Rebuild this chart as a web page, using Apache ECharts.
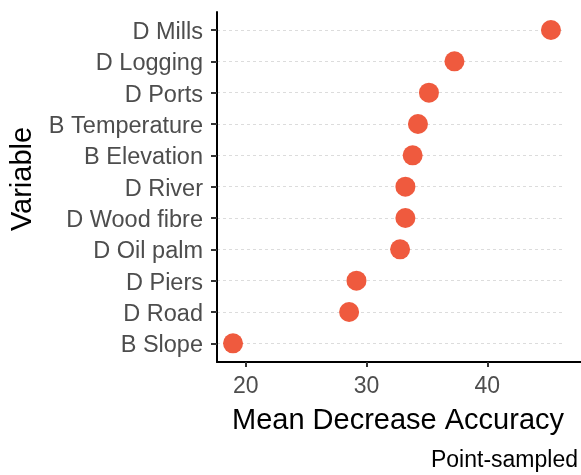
<!DOCTYPE html>
<html>
<head>
<meta charset="utf-8">
<script src="https://cdn.jsdelivr.net/npm/echarts@6/dist/echarts.min.js"></script>
<style>
html,body{margin:0;padding:0;background:#fff;}
#c{width:581px;height:475px;}
</style>
</head>
<body>
<div id="c"></div>
<script>
const categories = ["D Mills","D Logging","D Ports","B Temperature","B Elevation","D River","D Wood fibre","D Oil palm","D Piers","D Road","B Slope"];
const values = [45.27,37.28,35.17,34.26,33.82,33.22,33.22,32.78,29.17,28.56,18.95];
const xTicks = [20,30,40];
const xTitle = "Mean Decrease Accuracy";
const yTitle = "Variable";
const caption = "Point-sampled";

const FONT = "'Liberation Sans', Arial, sans-serif";
const xMin = 17.624;
const pxPerUnit = 12.08;
const chart = echarts.init(document.getElementById('c'), null, {renderer:'canvas'});
chart.setOption({
  animation:false,
  backgroundColor:'#ffffff',
  grid:[
    {left:217, width:348, top:30, height:313.33, containLabel:false},
    {left:217, width:364, top:12, height:350, containLabel:false}
  ],
  xAxis:[
    {gridIndex:0, type:'value', min:xMin, max:xMin+348/pxPerUnit, show:false, splitLine:{show:false}},
    {gridIndex:1, type:'value', min:xMin, max:xMin+364/pxPerUnit,
      axisLine:{show:true, lineStyle:{color:'#000', width:2}},
      axisTick:{show:true, customValues:xTicks, length:5, lineStyle:{color:'#333', width:2}},
      axisLabel:{show:true, customValues:xTicks, color:'#4d4d4d', fontSize:23, fontFamily:FONT, margin:13},
      splitLine:{show:false}}
  ],
  yAxis:[
    {gridIndex:0, type:'category', data:categories, inverse:true, boundaryGap:false,
      axisLine:{show:false},
      axisTick:{show:true, length:6, lineStyle:{color:'#333', width:2}},
      axisLabel:{margin:14, formatter:function(v){return '{a|'+v+'}';},
        rich:{a:{color:'#4d4d4d', fontSize:23.5, fontFamily:FONT, padding:[5,0,0,0]}}},
      splitLine:{show:true, lineStyle:{color:'#dcdcdc', type:[3,3], width:1}}},
    {gridIndex:1, type:'value', min:0, max:1,
      axisLine:{show:true, onZero:false, lineStyle:{color:'#000', width:2}},
      axisTick:{show:false}, axisLabel:{show:false}, splitLine:{show:false}}
  ],
  series:[{
    type:'scatter', xAxisIndex:0, yAxisIndex:0,
    data: values.map((v,i)=>[v, categories[i]]),
    symbol:'circle', symbolSize:20,
    itemStyle:{color:'#ef5a3e', opacity:1}
  }],
  graphic:[
    {type:'text', x:23, y:179, rotation:Math.PI/2,
      style:{text:yTitle, font:"29px "+FONT, fill:'#000', align:'center', verticalAlign:'middle'}},
    {type:'text', x:398, y:421, style:{text:xTitle, font:"29px "+FONT, fill:'#000', align:'center', verticalAlign:'middle'}},
    {type:'text', x:578, y:461, style:{text:caption, font:"23px "+FONT, fill:'#000', align:'right', verticalAlign:'middle'}}
  ]
});
</script>
</body>
</html>
